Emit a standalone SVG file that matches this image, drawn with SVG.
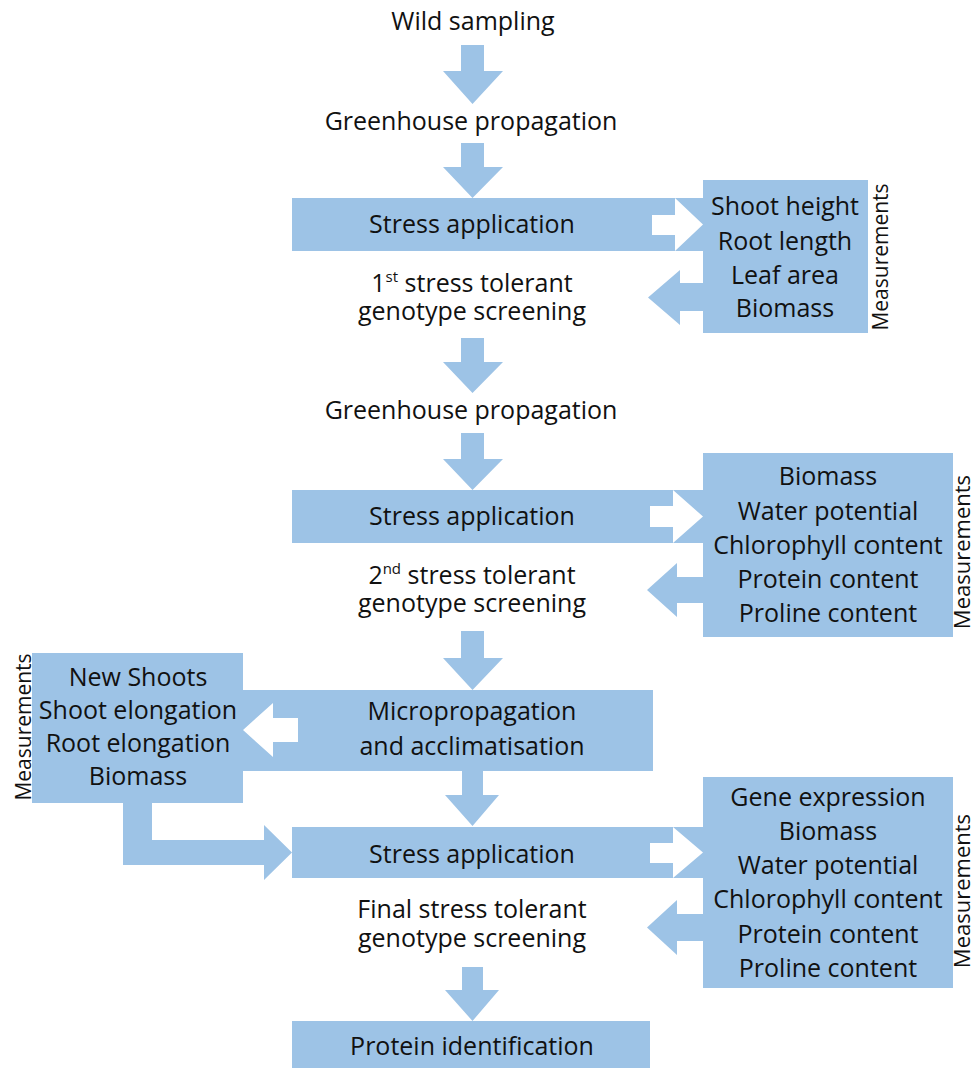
<svg xmlns="http://www.w3.org/2000/svg" width="975" height="1068" viewBox="0 0 975 1068">
<style>
.b{fill:#9DC3E6}
.w{fill:#ffffff}
text{font-family:"Open Sans","Noto Sans","Liberation Sans",sans-serif;font-size:25px;fill:#111;text-anchor:middle}
.m{font-size:21px}
.m2{font-size:22px}
</style>
<rect width="975" height="1068" fill="#ffffff"/>
<g id="wild"><text x="473" y="30">Wild sampling</text></g>
<g id="greenhouse1"><text x="471" y="130">Greenhouse propagation</text></g>
<g id="stress1"><rect class="b" x="292" y="198" width="411" height="53"/><text x="472" y="233">Stress application</text></g>
<g id="meas1"><rect class="b" x="703" y="180" width="165" height="153"/>
<text x="785" y="215">Shoot height</text><text x="785" y="250">Root length</text><text x="785" y="284">Leaf area</text><text x="785" y="317">Biomass</text>
<text class="m" x="888" y="257" transform="rotate(-90 888 257)">Measurements</text></g>
<g id="screen1"><text x="472" y="292">1<tspan font-size="15" dy="-10">st</tspan><tspan dy="10"> stress tolerant</tspan><tspan x="472" dy="28">genotype screening</tspan></text></g>
<g id="greenhouse2"><text x="471" y="419">Greenhouse propagation</text></g>
<g id="stress2"><rect class="b" x="292" y="490" width="411" height="53"/><text x="472" y="525">Stress application</text></g>
<g id="meas2"><rect class="b" x="703" y="453" width="250" height="184"/>
<text x="828" y="485">Biomass</text><text x="828" y="520">Water potential</text><text x="828" y="554">Chlorophyll content</text><text x="828" y="588">Protein content</text><text x="828" y="622">Proline content</text>
<text class="m2" x="970" y="552" transform="rotate(-90 970 552)">Measurements</text></g>
<g id="screen2"><text x="472" y="584">2<tspan font-size="15" dy="-10">nd</tspan><tspan dy="10"> stress tolerant</tspan><tspan x="472" dy="28">genotype screening</tspan></text></g>
<g id="micro"><rect class="b" x="243" y="690" width="410" height="81"/><text x="472" y="720">Micropropagation<tspan x="472" dy="35">and acclimatisation</tspan></text></g>
<g id="meas3"><rect class="b" x="32" y="653" width="211" height="150"/>
<text x="138" y="686">New Shoots</text><text x="138" y="719">Shoot elongation</text><text x="138" y="752">Root elongation</text><text x="138" y="785">Biomass</text>
<text class="m" x="31" y="727" transform="rotate(-90 31 727)">Measurements</text></g>
<g id="stress3"><rect class="b" x="292" y="827" width="411" height="51"/><text x="472" y="863">Stress application</text></g>
<g id="meas4"><rect class="b" x="703" y="777" width="250" height="211"/>
<text x="828" y="806">Gene expression</text><text x="828" y="840">Biomass</text><text x="828" y="874">Water potential</text><text x="828" y="908">Chlorophyll content</text><text x="828" y="943">Protein content</text><text x="828" y="977">Proline content</text>
<text class="m2" x="970" y="891" transform="rotate(-90 970 891)">Measurements</text></g>
<g id="screen3"><text x="472" y="918">Final stress tolerant<tspan x="472" dy="29">genotype screening</tspan></text></g>
<g id="protein"><rect class="b" x="292" y="1021" width="358" height="47"/><text x="472" y="1055">Protein identification</text></g>
<g id="connectors">
<polygon class="b" points="461,45 484,45 484,71 503,71 472.5,104 443,71 461,71"/>
<polygon class="b" points="461,143 484,143 484,167 503,167 472.5,198 443,167 461,167"/>
<polygon class="b" points="461,338 484,338 484,362 503,362 472.5,393 443,362 461,362"/>
<polygon class="b" points="461,433 484,433 484,459 503,459 472.5,490 443,459 461,459"/>
<polygon class="b" points="461,631 484,631 484,658 503,658 472.5,690 443,658 461,658"/>
<polygon class="b" points="462,771 483,771 483,795 499,795 472.5,826 445,795 462,795"/>
<polygon class="b" points="462,967 483,967 483,990 499,990 472.5,1021 445,990 462,990"/>
<polygon class="w" points="652,215 675,215 675,198 703,224.5 675,251 675,235 652,235"/>
<polygon class="w" points="650,506 673,506 673,490 703,516.5 673,543 673,527 650,527"/>
<polygon class="w" points="650,843 673,843 673,827 703,852.5 673,878 673,863 650,863"/>
<polygon class="w" points="298,718 273,718 273,703 243,730 273,757 273,742 298,742"/>
<polygon class="b" points="703,283 680,283 680,270 648,297.5 680,325 680,311 703,311"/>
<polygon class="b" points="703,577 677,577 677,563 647,590 677,617 677,603 703,603"/>
<polygon class="b" points="703,914 677,914 677,900 647,927.5 677,955 677,941 703,941"/>
<polygon class="b" points="123,803 152,803 152,840 264,840 264,825 292,852.5 264,880 264,865 123,865"/>
</g>
</svg>
